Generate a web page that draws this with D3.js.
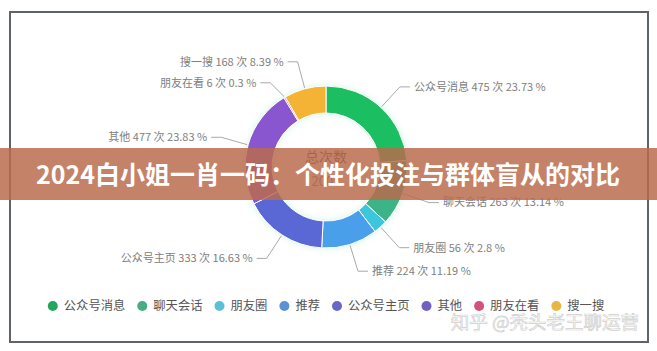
<!DOCTYPE html>
<html>
<head>
<meta charset="utf-8">
<script src="https://cdnjs.cloudflare.com/ajax/libs/d3/7.8.5/d3.min.js"></script>
<style>
    html, body { margin: 0; padding: 0; background: #fff; }
    svg { display: block; font-family: "Noto Sans CJK SC", "Noto Sans", sans-serif; }
</style>
</head>
<body>
<svg id="chart"></svg>
<script>
var categories = ['公众号消息', '聊天会话', '朋友圈', '推荐', '公众号主页', '其他', '朋友在看', '搜一搜'],
    counts = [475, 263, 56, 224, 333, 477, 6, 168],
    percents = ['23.73', '13.14', '2.8', '11.19', '16.63', '23.83', '0.3', '8.39'],
    colors = ['#1fbe62', '#3db488', '#3ec5dc', '#4a9fea', '#5a68d6', '#8a57d0', '#e0588a', '#f4b336'],
    legendColors = ['#26a55f', '#4aaa84', '#5bc0d4', '#5b92d4', '#6866c6', '#7060c2', '#d5517c', '#e8b644'],
    centerTitle = '总次数',
    title = '2024白小姐一肖一码：个性化投注与群体盲从的对比',
    watermark = '知乎 @秃头老王聊运营';

var width = 657,
    height = 351,
    cx = 326,
    cy = 167,
    outerR = 81,
    innerR = 54;

var svg = d3.select('#chart')
    .attr('width', width)
    .attr('height', height);

// frame of the screenshot
svg.append('rect')
    .attr('x', 10)
    .attr('y', 12)
    .attr('width', 638)
    .attr('height', 330)
    .attr('fill', '#fff')
    .attr('stroke', '#5e6368')
    .attr('stroke-width', 2);

var defs = svg.append('defs');
defs.append('filter')
    .attr('id', 'glow')
    .attr('x', '-20%').attr('y', '-20%')
    .attr('width', '140%').attr('height', '140%')
  .append('feDropShadow')
    .attr('dx', 0).attr('dy', 0)
    .attr('stdDeviation', 3)
    .attr('flood-color', '#7fe0b0')
    .attr('flood-opacity', 0.35);

var data = categories.map(function (c, i) {
    return { name: c, value: counts[i], pct: percents[i], color: colors[i] };
});

var pie = d3.pie()
    .sort(null)
    .value(function (d) { return d.value; });

var arc = d3.arc()
    .innerRadius(innerR)
    .outerRadius(outerR);

var arcs = pie(data);

var g = svg.append('g')
    .attr('transform', 'translate(' + cx + ',' + cy + ')');

g.append('g')
    .attr('filter', 'url(#glow)')
    .selectAll('path')
    .data(arcs)
  .enter()
    .append('path')
    .attr('d', arc)
    .attr('fill', function (d) { return d.data.color; })
    .attr('stroke', '#fff')
    .attr('stroke-width', 1);

// label positions: radial segment then horizontal segment
var lineR = outerR + 28,
    labels = arcs.map(function (d) {
        var a = (d.startAngle + d.endAngle) / 2,
            right = Math.sin(a) >= 0;
        return {
            d: d,
            right: right,
            x0: Math.sin(a) * (outerR + 1),
            y0: -Math.cos(a) * (outerR + 1),
            x1: Math.sin(a) * lineR,
            y1: -Math.cos(a) * lineR
        };
    });

// push overlapping labels apart on each side
[true, false].forEach(function (side) {
    var list = labels.filter(function (l) { return l.right === side; })
        .sort(function (a, b) { return a.y1 - b.y1; });
    for (var i = 1; i < list.length; i++) {
        if (list[i].y1 - list[i - 1].y1 < 21) {
            list[i].y1 = list[i - 1].y1 + 21;
        }
    }
});

var lab = g.append('g')
    .selectAll('g')
    .data(labels)
  .enter()
    .append('g');

lab.append('polyline')
    .attr('points', function (l) {
        var x2 = l.x1 + (l.right ? 10 : -10);
        return [l.x0, l.y0, l.x1, l.y1, x2, l.y1].join(',');
    })
    .attr('fill', 'none')
    .attr('stroke', '#a9a9a9')
    .attr('stroke-width', 1);

lab.append('text')
    .attr('x', function (l) { return l.x1 + (l.right ? 14 : -14); })
    .attr('y', function (l) { return l.y1; })
    .attr('dy', '0.35em')
    .attr('text-anchor', function (l) { return l.right ? 'start' : 'end'; })
    .attr('font-size', 11)
    .attr('fill', '#808080')
    .text(function (l) {
        return l.d.data.name + ' ' + l.d.data.value + ' 次 ' + l.d.data.pct + ' %';
    });

// center text
g.append('text')
    .attr('y', -10)
    .attr('text-anchor', 'middle')
    .attr('dy', '0.35em')
    .attr('font-size', 14)
    .attr('fill', '#444')
    .text(centerTitle);

g.append('text')
    .attr('y', 14)
    .attr('text-anchor', 'middle')
    .attr('dy', '0.35em')
    .attr('font-size', 13)
    .attr('fill', '#777')
    .text(d3.sum(counts));

// legend
var legend = svg.append('g'),
    cursor = 0;

categories.forEach(function (c, i) {
    var item = legend.append('g')
        .attr('transform', 'translate(' + cursor + ',0)');
    item.append('circle')
        .attr('cx', 5)
        .attr('cy', 0)
        .attr('r', 5)
        .attr('fill', legendColors[i]);
    var t = item.append('text')
        .attr('x', 16)
        .attr('dy', '0.35em')
        .attr('font-size', 12.3)
        .attr('fill', '#555')
        .text(c);
    cursor += 16 + t.node().getComputedTextLength() + 12;
});

legend.attr('transform', 'translate(' + (326 - (cursor - 12) / 2) + ',306)');

// watermark
svg.append('text')
    .attr('x', 639)
    .attr('y', 323)
    .attr('dy', '0.35em')
    .attr('text-anchor', 'end')
    .attr('font-size', 18.5)
    .attr('fill', 'none')
    .attr('stroke', '#cfcfcf')
    .attr('stroke-width', 0.7)
    .text(watermark);

// title banner on top
svg.append('rect')
    .attr('x', 0)
    .attr('y', 148)
    .attr('width', width)
    .attr('height', 52)
    .attr('fill', 'rgb(185,106,76)')
    .attr('fill-opacity', 0.84);

svg.append('text')
    .attr('x', 328)
    .attr('y', 175)
    .attr('dy', '0.35em')
    .attr('text-anchor', 'middle')
    .attr('font-size', 25)
    .attr('font-weight', 'bold')
    .attr('fill', '#fff')
    .text(title);
</script>
</body>
</html>
